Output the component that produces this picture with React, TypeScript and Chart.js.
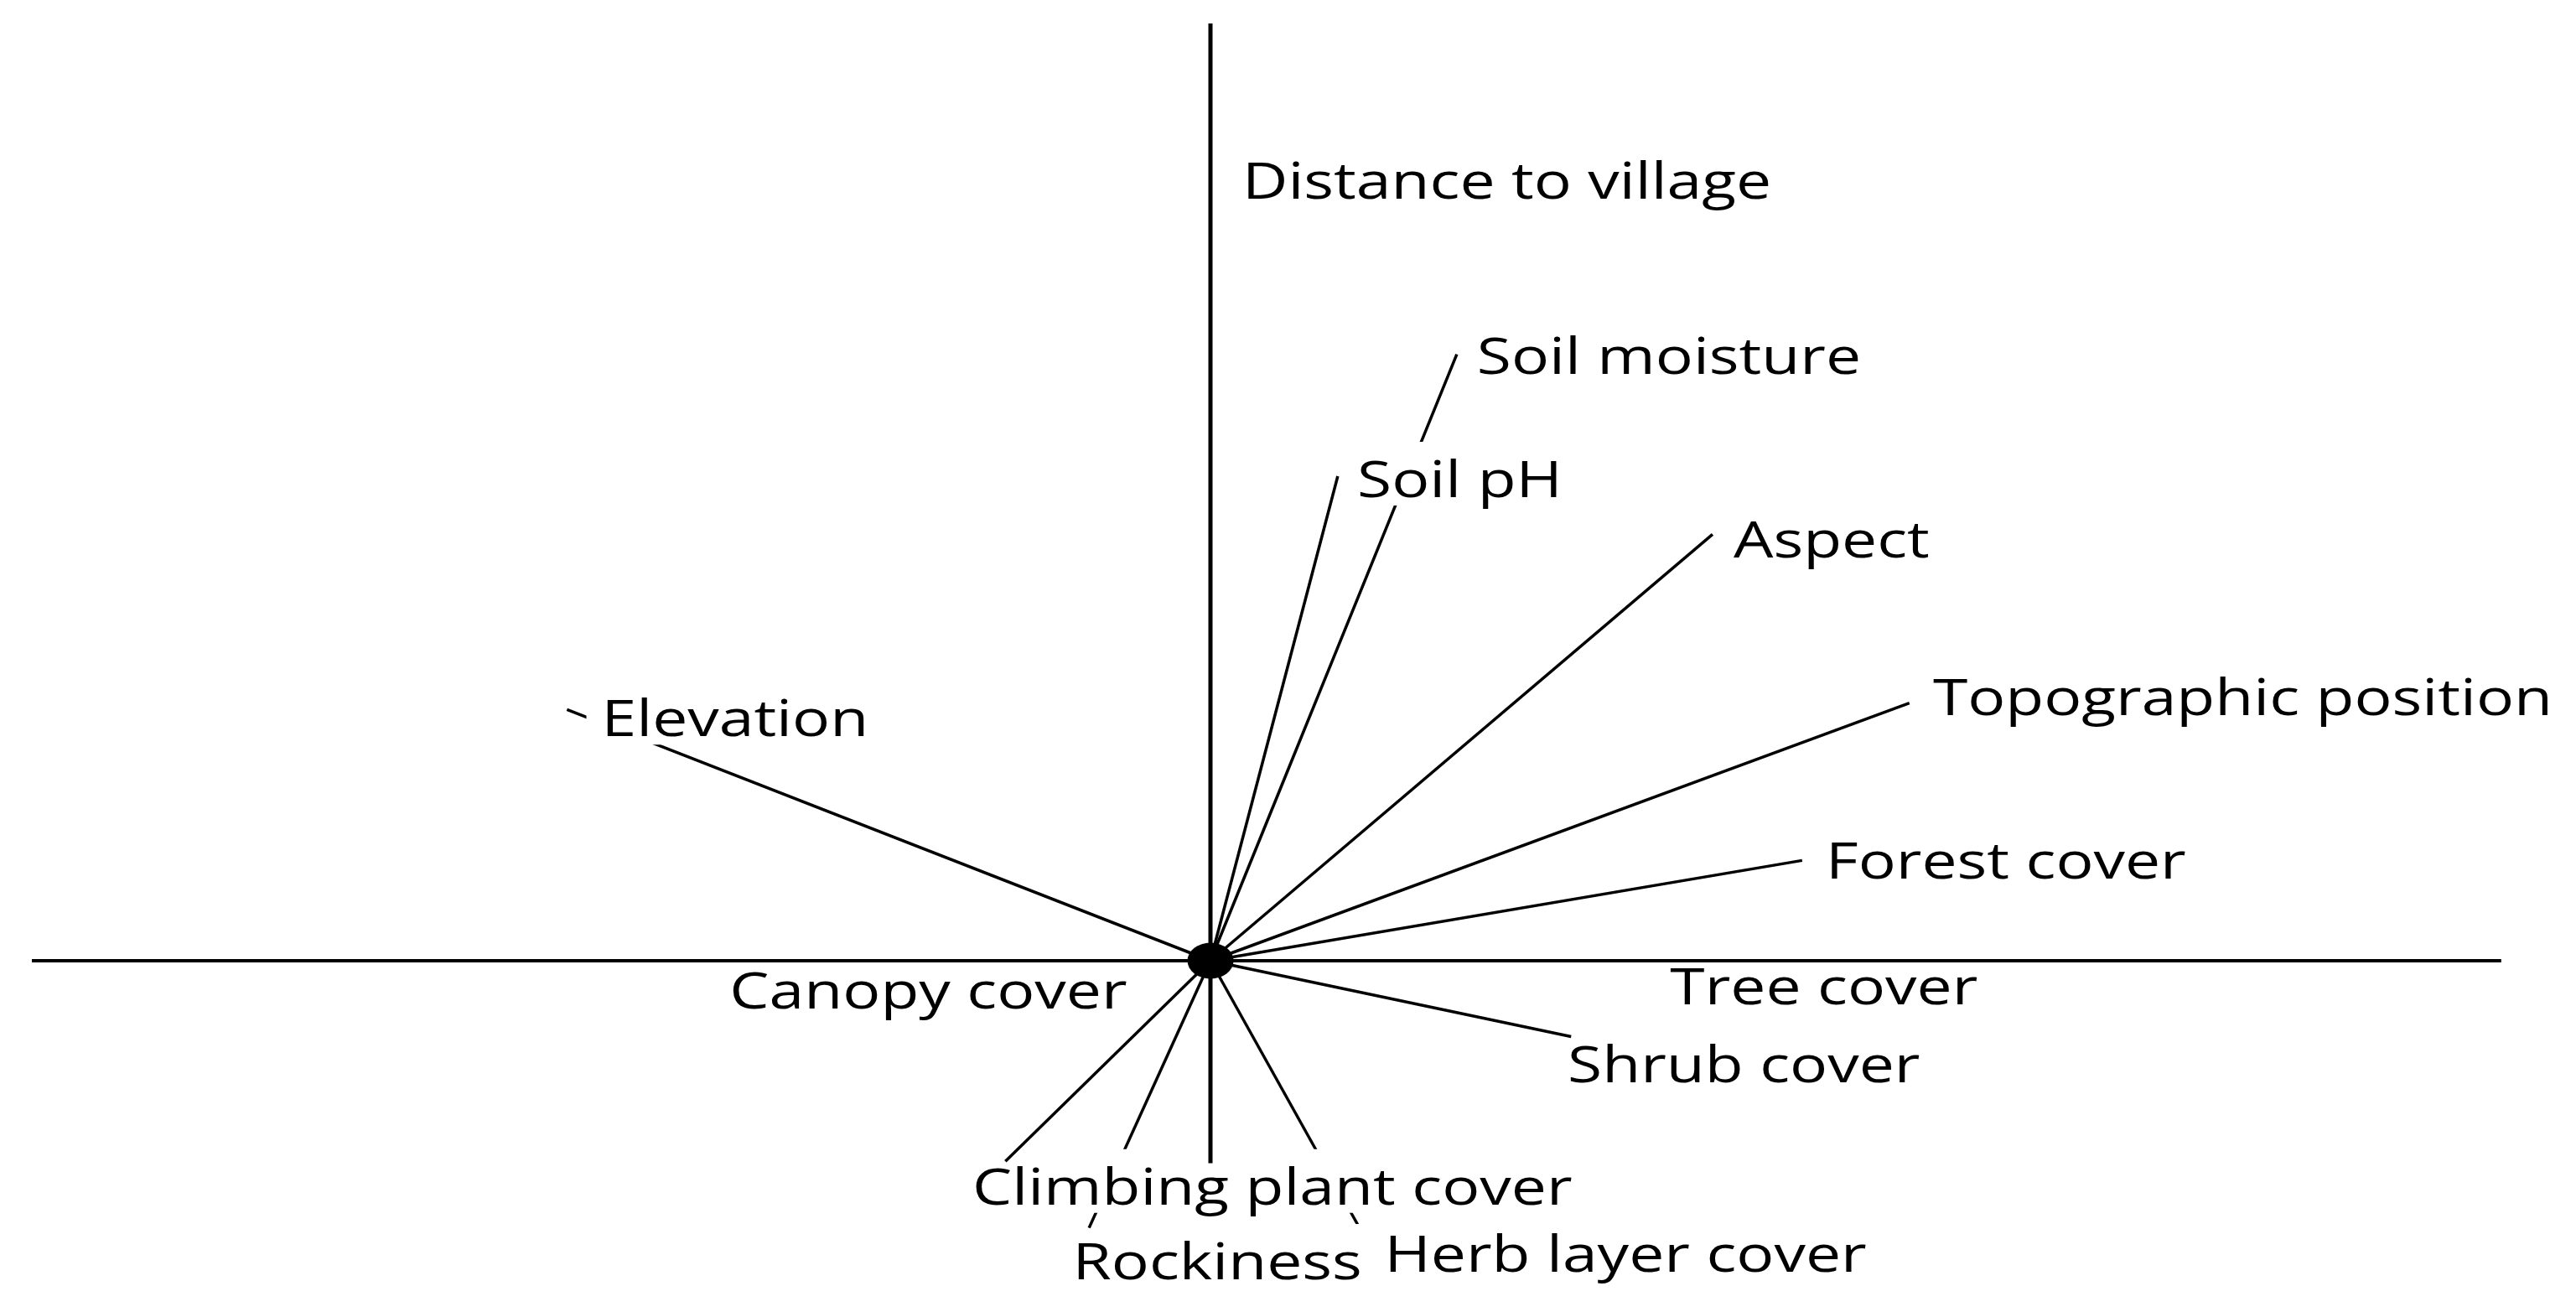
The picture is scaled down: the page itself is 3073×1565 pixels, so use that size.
import { useEffect, useRef } from "react";
import { Chart, registerables } from "chart.js";

Chart.register(...registerables);

// Variables of the ordination biplot
const variables = [
  "Distance to village",
  "Soil moisture",
  "Soil pH",
  "Aspect",
  "Topographic position",
  "Forest cover",
  "Tree cover",
  "Shrub cover",
  "Herb layer cover",
  "Rockiness",
  "Climbing plant cover",
  "Canopy cover",
  "Elevation",
];

// Vector end points (loadings on axis 1 and axis 2)
const loadingX = [0, 0.209, 0.108, 0.426, 0.593, 0.502, 1.095, 0.306, 0.126, -0.103, -0.174, -1.0, -0.546];
const loadingY = [1.0, 0.647, 0.517, 0.455, 0.275, 0.107, 0, -0.081, -0.284, -0.285, -0.214, 0, 0.268];

// Label anchors (left edge, baseline) in axis units
const labelX = [0.027, 0.226, 0.1245, 0.4438, 0.613, 0.522, 0.39, 0.303, 0.1476, -0.117, -0.202, -0.408, -0.5167];
const labelY = [0.813, 0.626, 0.4946, 0.43, 0.262, 0.0877, -0.0462, -0.1294, -0.332, -0.34, -0.26, -0.051, 0.2394];

// Axis lines and visible window
const axisXRange = [-1.0, 1.095];
const axisYRange = [-0.216, 1.0];
const viewX = [-1.02703, 1.1586];
const viewY = [-0.37478, 1.02504];

const W = 3073;
const H = 1565;
const FONT_SIZE = 60;
const STRETCH = 1.25;
const FONT = `${FONT_SIZE}px "Open Sans"`;

export default function App() {
  const ref = useRef<HTMLCanvasElement>(null);

  useEffect(() => {
    document.body.style.margin = "0";
    document.body.style.overflow = "hidden";
    document.body.style.background = "#fff";
    const canvas = ref.current!;

    const dot = document.createElement("canvas");
    dot.width = 56;
    dot.height = 44;
    const dctx = dot.getContext("2d")!;
    dctx.fillStyle = "#000";
    dctx.beginPath();
    dctx.ellipse(28, 22, 27.5, 21.5, 0, 0, Math.PI * 2);
    dctx.fill();

    const boxes = (chart: any) => {
      const ctx = chart.ctx as CanvasRenderingContext2D;
      ctx.save();
      ctx.font = FONT;
      const xs = chart.scales.x;
      const ys = chart.scales.y;
      const res = variables.map((t, i) => {
        const px = xs.getPixelForValue(labelX[i]);
        const py = ys.getPixelForValue(labelY[i]);
        const w = ctx.measureText(t).width * STRETCH;
        return { x0: px - 18, x1: px + w + 16, y0: py - 66, y1: py + 10, px, py };
      });
      ctx.restore();
      return res;
    };

    const labelPlugin = {
      id: "biplotLabels",
      beforeDatasetDraw(chart: any, args: any) {
        const ds = chart.data.datasets[args.index] as any;
        const ctx = chart.ctx as CanvasRenderingContext2D;
        ctx.save();
        if (ds.varIndex === undefined) return;
        const bs = boxes(chart);
        const i = ds.varIndex;
        const ex = chart.scales.x.getPixelForValue(loadingX[i]);
        const ey = chart.scales.y.getPixelForValue(loadingY[i]);
        bs.forEach((b, j) => {
          // a label never hides the tip of its own vector
          if (j === i && ex >= b.x0 && ex <= b.x1 && ey >= b.y0 && ey <= b.y1) return;
          ctx.beginPath();
          ctx.rect(0, 0, chart.width, chart.height);
          ctx.rect(b.x0, b.y0, b.x1 - b.x0, b.y1 - b.y0);
          ctx.clip("evenodd");
        });
      },
      afterDatasetDraw(chart: any) {
        chart.ctx.restore();
      },
      afterDatasetsDraw(chart: any) {
        const ctx = chart.ctx as CanvasRenderingContext2D;
        const bs = boxes(chart);
        ctx.save();
        ctx.font = FONT;
        ctx.fillStyle = "#000";
        ctx.textBaseline = "alphabetic";
        ctx.textAlign = "left";
        variables.forEach((t, i) => {
          ctx.save();
          ctx.translate(bs[i].px, bs[i].py);
          ctx.scale(STRETCH, 1);
          ctx.fillText(t, 0, 0);
          ctx.restore();
        });
        ctx.restore();
      },
    };

    const lineBase = {
      showLine: true,
      borderColor: "#000",
      backgroundColor: "#000",
      pointRadius: 0,
      pointHoverRadius: 0,
      tension: 0,
      clip: false as any,
    };

    const datasets: any[] = [
      {
        label: "origin",
        data: [{ x: 0, y: 0 }],
        showLine: false,
        pointStyle: dot,
        pointRadius: 28,
        pointHoverRadius: 28,
        backgroundColor: "#000",
        borderColor: "#000",
        clip: false,
      },
      {
        ...lineBase,
        label: "axis1",
        data: [
          { x: axisXRange[0], y: 0 },
          { x: axisXRange[1], y: 0 },
        ],
        borderWidth: 4,
      },
      {
        ...lineBase,
        label: "axis2",
        data: [
          { x: 0, y: axisYRange[0] },
          { x: 0, y: axisYRange[1] },
        ],
        borderWidth: 5,
      },
      ...variables.map((v, i) => ({
        ...lineBase,
        label: v,
        varIndex: i,
        data: [
          { x: 0, y: 0 },
          { x: loadingX[i], y: loadingY[i] },
        ],
        borderWidth: 3.5,
      })),
    ];

    const chart = new Chart(canvas, {
      type: "scatter",
      data: { datasets },
      options: {
        responsive: false,
        maintainAspectRatio: false,
        devicePixelRatio: 1,
        animation: false,
        events: [],
        layout: { padding: 0, autoPadding: false },
        scales: {
          x: { type: "linear", min: viewX[0], max: viewX[1], display: false },
          y: { type: "linear", min: viewY[0], max: viewY[1], display: false },
        },
        plugins: {
          legend: { display: false },
          tooltip: { enabled: false },
        },
      },
      plugins: [labelPlugin],
    } as any);

    return () => chart.destroy();
  }, []);

  return (
    <div style={{ width: W, height: H, background: "#fff" }}>
      <canvas ref={ref} width={W} height={H} style={{ width: W, height: H, display: "block" }} />
    </div>
  );
}
